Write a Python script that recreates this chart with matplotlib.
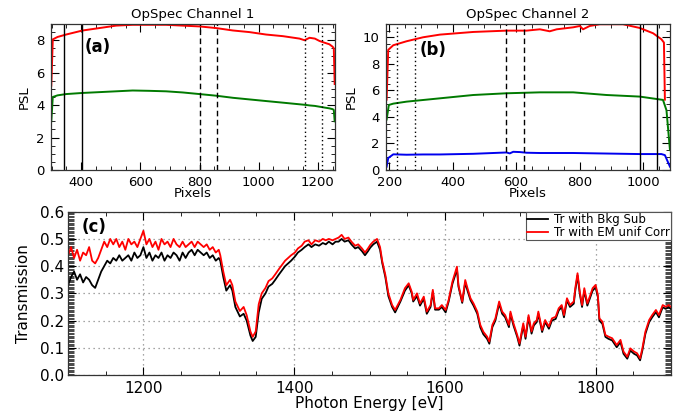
import matplotlib
matplotlib.use('Agg')
import matplotlib.pyplot as plt
import numpy as np
from matplotlib.ticker import MultipleLocator, FormatStrFormatter

# Panel (a): OpSpec channel 1
pix_a = [299, 304, 320, 349, 405, 462, 518, 574, 630, 687, 743, 800, 856, 913,
         969, 1025, 1082, 1138, 1155, 1172, 1190, 1206, 1222, 1239, 1250, 1254, 1257]
red_a = [5.2, 8.05, 8.2, 8.35, 8.6, 8.75, 8.9, 8.95, 8.95, 8.95, 8.9, 8.85, 8.75, 8.6,
         8.5, 8.35, 8.25, 8.1, 8.0, 8.15, 8.1, 7.95, 7.85, 7.75, 7.6, 7.5, 5.3]
green_a = [3.0, 4.5, 4.6, 4.68, 4.75, 4.8, 4.85, 4.9, 4.88, 4.85, 4.78, 4.68, 4.58, 4.45,
           4.35, 4.25, 4.15, 4.05, 4.02, 3.98, 3.95, 3.9, 3.85, 3.8, 3.75, 3.7, 3.0]
solid_a = [342, 402]
dashed_a = [800, 860]
dotted_a = [1155, 1215]

# Panel (b): OpSpec channel 2
pix_b_red = [192, 197, 213, 255, 307, 360, 465, 570, 633, 675, 706, 728, 780, 801,
             811, 832, 864, 937, 990, 1032, 1058, 1066, 1069]
red_b = [5.3, 9.05, 9.4, 9.7, 10.0, 10.2, 10.4, 10.5, 10.5, 10.6, 10.45, 10.6, 10.75, 10.85,
         10.6, 10.85, 10.98, 10.98, 10.7, 10.3, 9.85, 9.6, 5.3]
pix_b_green = [192, 199, 213, 255, 360, 465, 570, 675, 780, 885, 990, 1063, 1074, 1085]
green_b = [3.8, 4.9, 5.0, 5.15, 5.4, 5.65, 5.78, 5.85, 5.85, 5.65, 5.53, 5.28, 4.5, 1.5]
pix_b_blue = [192, 197, 213, 255, 307, 360, 465, 570, 580, 591, 612, 633, 675, 780,
              885, 990, 1058, 1069, 1085]
blue_b = [0.25, 0.9, 1.18, 1.15, 1.17, 1.17, 1.22, 1.32, 1.25, 1.37, 1.35, 1.3, 1.28, 1.28,
          1.24, 1.2, 1.2, 1.12, 0.25]
dotted_b = [225, 282]
dashed_b = [568, 625]
solid_b = [990, 1045]

# Panel (c): transmission vs photon energy
energy = [1100, 1104, 1108, 1112, 1116, 1120, 1124, 1128, 1132, 1136, 1140, 1144, 1148,
          1152, 1156, 1160, 1164, 1168, 1172, 1176, 1180, 1184, 1188, 1192, 1196, 1200,
          1204, 1208, 1212, 1216, 1220, 1224, 1228, 1232, 1236, 1240, 1244, 1248, 1252,
          1256, 1260, 1264, 1268, 1272, 1276, 1280, 1284, 1288, 1292, 1296, 1300,
          1302, 1306, 1310, 1315, 1318, 1322, 1328, 1333, 1337, 1342, 1345, 1349, 1353,
          1357, 1362, 1366, 1371, 1375, 1380, 1384, 1388, 1392, 1396, 1401, 1405, 1410,
          1414, 1419, 1423, 1428, 1433, 1438, 1442, 1446, 1451, 1455, 1459, 1463, 1467,
          1472, 1476, 1481, 1485, 1490, 1494, 1498, 1501,
          1505, 1510, 1514, 1517, 1521, 1525, 1530, 1534, 1541, 1547, 1552, 1556, 1558,
          1563, 1567, 1572, 1576, 1581, 1584, 1587, 1592, 1596, 1601, 1605, 1610, 1614,
          1616, 1618, 1623, 1627, 1630, 1634, 1638, 1643, 1647, 1651, 1656, 1659, 1663,
          1667, 1672, 1676, 1680, 1685, 1687, 1691, 1696, 1699, 1704, 1707, 1711, 1715,
          1718, 1722, 1724, 1729, 1733, 1738, 1742, 1747, 1751, 1755, 1758, 1762, 1766,
          1771, 1773, 1776, 1779, 1782, 1785, 1789, 1793, 1796, 1800, 1803, 1805, 1809,
          1813, 1817, 1822, 1828, 1833, 1837, 1842, 1846, 1851, 1855, 1859, 1862, 1866,
          1871, 1875, 1880, 1884, 1889, 1893, 1897, 1900]
tr_em = [0.44, 0.47, 0.43, 0.46, 0.42, 0.45, 0.44, 0.47, 0.42, 0.41, 0.43, 0.46, 0.49,
         0.47, 0.50, 0.48, 0.50, 0.47, 0.49, 0.46, 0.50, 0.48, 0.49, 0.47, 0.50, 0.53,
         0.48, 0.50, 0.47, 0.49, 0.46, 0.50, 0.48, 0.49, 0.47, 0.50, 0.48, 0.47, 0.49,
         0.47, 0.48, 0.49, 0.47, 0.49, 0.48, 0.47, 0.48, 0.46, 0.47, 0.45, 0.46,
         0.44, 0.38, 0.33, 0.35, 0.33, 0.27, 0.235, 0.25, 0.22, 0.16, 0.14, 0.16, 0.26,
         0.30, 0.32, 0.345, 0.355, 0.37, 0.39, 0.405, 0.42, 0.43, 0.44, 0.45, 0.465, 0.475,
         0.49, 0.495, 0.48, 0.495, 0.49, 0.50, 0.495, 0.50, 0.495, 0.50, 0.505, 0.515, 0.50,
         0.505, 0.49, 0.475, 0.48, 0.465, 0.45, 0.465, 0.478,
         0.49, 0.50, 0.47, 0.417, 0.368, 0.30, 0.257, 0.239, 0.276, 0.319, 0.337, 0.306, 0.276,
         0.30, 0.263, 0.288, 0.233, 0.257, 0.313, 0.245, 0.245, 0.257, 0.239, 0.276, 0.343, 0.38,
         0.398, 0.331, 0.27, 0.349, 0.319, 0.282, 0.263, 0.233, 0.184, 0.159, 0.141, 0.123, 0.184,
         0.208, 0.27, 0.233, 0.22, 0.184, 0.233, 0.19, 0.147, 0.116, 0.19, 0.141, 0.22, 0.16,
         0.19, 0.202, 0.233, 0.165, 0.202, 0.178, 0.208, 0.214, 0.245, 0.257, 0.22, 0.282, 0.257,
         0.27, 0.319, 0.374, 0.306, 0.257, 0.319, 0.263, 0.294, 0.319, 0.331, 0.294, 0.208, 0.196,
         0.147, 0.141, 0.135, 0.11, 0.129, 0.086, 0.067, 0.098, 0.086, 0.08, 0.061, 0.098, 0.159,
         0.202, 0.22, 0.239, 0.22, 0.257, 0.251, 0.257, 0.25]
tr_bkg = [0.33, 0.36, 0.38, 0.35, 0.37, 0.34, 0.36, 0.35, 0.33, 0.32, 0.35, 0.38, 0.40,
          0.42, 0.41, 0.43, 0.42, 0.44, 0.42, 0.43, 0.44, 0.42, 0.45, 0.43, 0.44, 0.47,
          0.43, 0.45, 0.42, 0.44, 0.43, 0.45, 0.42, 0.44, 0.43, 0.45, 0.44, 0.42, 0.45,
          0.43, 0.45, 0.46, 0.44, 0.46, 0.45, 0.44, 0.45, 0.43, 0.44, 0.42, 0.43,
          0.42, 0.36, 0.31, 0.33, 0.31, 0.25, 0.215, 0.225, 0.20, 0.145, 0.125, 0.14, 0.23,
          0.28, 0.30, 0.325, 0.335, 0.35, 0.37, 0.385, 0.40, 0.41, 0.42, 0.435, 0.45, 0.46,
          0.47, 0.48, 0.47, 0.48, 0.475, 0.485, 0.48, 0.49, 0.48, 0.49, 0.49, 0.50, 0.49,
          0.495, 0.48, 0.465, 0.47, 0.455, 0.44, 0.455, 0.468,
          0.48, 0.49, 0.46, 0.41, 0.36, 0.29, 0.25, 0.23, 0.27, 0.31, 0.33, 0.30, 0.27,
          0.29, 0.255, 0.28, 0.225, 0.25, 0.305, 0.24, 0.24, 0.25, 0.23, 0.27, 0.335, 0.37,
          0.39, 0.325, 0.265, 0.34, 0.31, 0.275, 0.255, 0.225, 0.175, 0.15, 0.133, 0.115, 0.176,
          0.20, 0.262, 0.225, 0.212, 0.176, 0.225, 0.182, 0.14, 0.108, 0.182, 0.133, 0.212, 0.152,
          0.182, 0.195, 0.225, 0.158, 0.195, 0.17, 0.20, 0.206, 0.237, 0.25, 0.212, 0.275, 0.25,
          0.262, 0.31, 0.366, 0.298, 0.25, 0.31, 0.255, 0.286, 0.31, 0.322, 0.286, 0.20, 0.188,
          0.14, 0.133, 0.127, 0.102, 0.121, 0.078, 0.06, 0.09, 0.078, 0.072, 0.054, 0.09, 0.151,
          0.194, 0.212, 0.231, 0.212, 0.249, 0.243, 0.249, 0.242]

RED = '#ff0000'
GREEN = '#007a00'
BLUE = '#0000ee'


def style_axes(ax, fs, ypad=3):
    ax.tick_params(which='both', direction='in', top=True, right=True, labelsize=fs)
    ax.tick_params(axis='x', pad=4)
    ax.tick_params(axis='y', pad=ypad)
    ax.tick_params(which='major', length=6, width=0.8)
    ax.tick_params(which='minor', length=3, width=0.6)
    for s in ax.spines.values():
        s.set_linewidth(0.9)
        s.set_color('#333333')


fig = plt.figure(figsize=(6.81, 4.13), dpi=100)

# (a)
ax1 = fig.add_axes([0.0749, 0.5884, 0.417, 0.3535])
ax1.plot(pix_a, red_a, color=RED, lw=1.4)
ax1.plot(pix_a, green_a, color=GREEN, lw=1.4)
for v in solid_a:
    ax1.axvline(v, color='k', lw=1.0)
for v in dashed_a:
    ax1.axvline(v, color='k', lw=1.0, ls=(0, (4, 2.5)))
for v in dotted_a:
    ax1.axvline(v, color='k', lw=1.0, ls=(0, (1, 2)))
ax1.set_xlim(298, 1258)
ax1.set_ylim(0, 9.0)
ax1.xaxis.set_major_locator(MultipleLocator(200))
ax1.xaxis.set_minor_locator(MultipleLocator(50))
ax1.yaxis.set_major_locator(MultipleLocator(2))
ax1.yaxis.set_minor_locator(MultipleLocator(0.5))
style_axes(ax1, 9.5, ypad=4.5)
ax1.set_title('OpSpec Channel 1', fontsize=9.5, pad=4)
ax1.set_xlabel('Pixels', fontsize=9.5, labelpad=-1)
ax1.set_ylabel('PSL', fontsize=9.5, labelpad=4)
ax1.text(0.12, 0.81, '(a)', transform=ax1.transAxes, fontsize=12, fontweight='bold')

# (b)
ax2 = fig.add_axes([0.5668, 0.5884, 0.417, 0.3535])
ax2.plot(pix_b_red, red_b, color=RED, lw=1.4)
ax2.plot(pix_b_green, green_b, color=GREEN, lw=1.4)
ax2.plot(pix_b_blue, blue_b, color=BLUE, lw=1.4)
for v in solid_b:
    ax2.axvline(v, color='k', lw=1.0)
for v in dashed_b:
    ax2.axvline(v, color='k', lw=1.0, ls=(0, (4, 2.5)))
for v in dotted_b:
    ax2.axvline(v, color='k', lw=1.0, ls=(0, (1, 2)))
ax2.set_xlim(190, 1085)
ax2.set_ylim(0, 11.0)
ax2.xaxis.set_major_locator(MultipleLocator(200))
ax2.xaxis.set_minor_locator(MultipleLocator(50))
ax2.yaxis.set_major_locator(MultipleLocator(2))
ax2.yaxis.set_minor_locator(MultipleLocator(0.5))
style_axes(ax2, 9.5, ypad=4.5)
ax2.set_title('OpSpec Channel 2', fontsize=9.5, pad=4)
ax2.set_xlabel('Pixels', fontsize=9.5, labelpad=-1)
ax2.set_ylabel('PSL', fontsize=9.5, labelpad=4)
ax2.text(0.12, 0.79, '(b)', transform=ax2.transAxes, fontsize=12, fontweight='bold')

# (c)
ax3 = fig.add_axes([0.0999, 0.092, 0.8854, 0.3954])
ax3.plot(energy, tr_bkg, color='k', lw=1.3, label='Tr with Bkg Sub')
ax3.plot(energy, tr_em, color=RED, lw=1.3, label='Tr with EM unif Corr')
ax3.set_xlim(1100, 1900)
ax3.set_ylim(0, 0.6)
ax3.xaxis.set_major_locator(MultipleLocator(200))
ax3.xaxis.set_minor_locator(MultipleLocator(50))
ax3.yaxis.set_major_locator(MultipleLocator(0.1))
ax3.yaxis.set_minor_locator(MultipleLocator(0.005))
ax3.yaxis.set_major_formatter(FormatStrFormatter('%.1f'))
style_axes(ax3, 11)
ax3.tick_params(which='minor', axis='y', length=4, width=0.5)
ax3.grid(True, which='major', color='#888888', ls=(0, (1, 3)), lw=0.9)
ax3.set_xlabel('Photon Energy [eV]', fontsize=11, labelpad=0)
ax3.set_ylabel('Transmission', fontsize=11, labelpad=6)
ax3.text(0.022, 0.875, '(c)', transform=ax3.transAxes, fontsize=12, fontweight='bold')
leg = ax3.legend(loc='upper right', fontsize=8.5, frameon=True, fancybox=False,
                 borderaxespad=0, handlelength=1.8, borderpad=0.1, labelspacing=0.0,
                 handletextpad=0.5, framealpha=1)
leg.get_frame().set_edgecolor('#555555')
leg.get_frame().set_linewidth(0.8)

fig.savefig('out.png', dpi=100)
